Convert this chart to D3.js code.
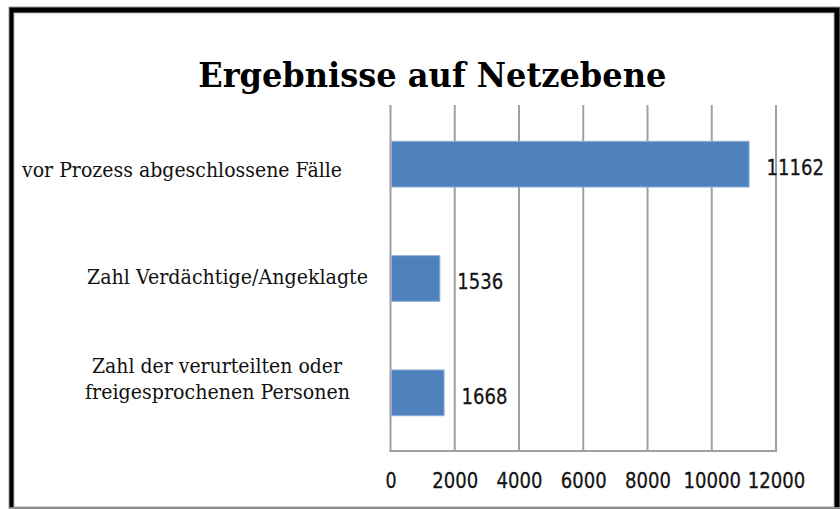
<!DOCTYPE html>
<html>
<head>
<meta charset="utf-8">
<script src="https://cdn.jsdelivr.net/npm/d3@7"></script>
<style>
  html, body { margin: 0; padding: 0; background: #ffffff; }
  svg { display: block; }
</style>
</head>
<body>
<script>
// ---- data ----
const title = "Ergebnisse auf Netzebene";
const categories = [
  ["vor Prozess abgeschlossene Fälle"],
  ["Zahl Verdächtige/Angeklagte"],
  ["Zahl der verurteilten oder", "freigesprochenen Personen"]
];
const values = [11162, 1536, 1668];
const tickValues = [0, 2000, 4000, 6000, 8000, 10000, 12000];
const xDomain = [0, 12000];

// ---- layout (not data) ----
const W = 840, H = 509;
const plot = { left: 390.5, right: 776, top: 105, bottom: 451 };
// per-category label placement: left x of each line, baseline offsets from band centre, line widths
const labelLayout = [
  { x: [22], dy: [12.8], w: [320] },
  { x: [87], dy: [5.3], w: [281] },
  { x: [92, 85], dy: [-19.7, 6.6], w: [250, 265] }
];

const svg = d3.select("body").append("svg").attr("width", W).attr("height", H);

// frame
svg.append("rect").attr("x", 9).attr("y", 7).attr("width", W - 9).attr("height", H - 7)
  .attr("fill", "#000").attr("stroke", "#9a9a9a").attr("stroke-width", 1);
svg.append("rect").attr("x", 14).attr("y", 13).attr("width", 820).attr("height", 494)
  .attr("fill", "#fff").attr("stroke", "#b0b0b0").attr("stroke-width", 1);
svg.append("line").attr("x1", 9).attr("x2", W).attr("y1", 508).attr("y2", 508)
  .attr("stroke", "#8a8a8a").attr("stroke-width", 2);

// scales
const x = d3.scaleLinear().domain(xDomain).range([plot.left, plot.right]);
const y = d3.scaleBand().domain(d3.range(values.length)).range([107, 450])
  .paddingInner(0.6).paddingOuter(0.3);

// gridlines
svg.append("g").selectAll("line").data(tickValues).join("line")
  .attr("x1", d => x(d)).attr("x2", d => x(d))
  .attr("y1", plot.top).attr("y2", plot.bottom)
  .attr("stroke", "#a0a0a0").attr("stroke-width", 2);
svg.append("line").attr("x1", plot.left - 1).attr("x2", plot.right + 1)
  .attr("y1", plot.bottom).attr("y2", plot.bottom)
  .attr("stroke", "#a0a0a0").attr("stroke-width", 2);

// bars
svg.append("g").selectAll("rect").data(values).join("rect")
  .attr("x", x(0) + 1)
  .attr("y", (d, i) => y(i))
  .attr("width", d => x(d) - x(0) - 1)
  .attr("height", y.bandwidth())
  .attr("fill", "#4f81bd")
  .attr("stroke", "#8fb0da").attr("stroke-width", 1);

// value labels
const digitW = 11.6;
svg.append("g").selectAll("text").data(values).join("text")
  .attr("x", d => x(d) + 17.5)
  .attr("y", (d, i) => y(i) + y.bandwidth() / 2 + 10.8)
  .attr("font-family", "DejaVu Sans, Verdana, sans-serif")
  .attr("font-size", 22)
  .attr("fill", "#141414")
  .attr("stroke", "#141414").attr("stroke-width", 0.3)
  .attr("textLength", d => String(d).length * digitW - 0.5)
  .attr("lengthAdjust", "spacingAndGlyphs")
  .text(d => d);

// x axis tick labels
const axis = d3.axisBottom(x).tickValues(tickValues).tickSize(0).tickPadding(0).tickFormat(d3.format("d"));
const gAxis = svg.append("g").attr("transform", `translate(0,${plot.bottom})`).call(axis);
gAxis.select(".domain").remove();
gAxis.selectAll("text")
  .attr("dy", null)
  .attr("y", 37.3)
  .attr("font-family", "DejaVu Sans, Verdana, sans-serif")
  .attr("font-size", 20.5)
  .attr("fill", "#141414")
  .attr("stroke", "#141414").attr("stroke-width", 0.3)
  .attr("text-anchor", "middle")
  .attr("textLength", d => String(d).length * digitW - 0.5)
  .attr("lengthAdjust", "spacingAndGlyphs");

// category labels
categories.forEach((lines, i) => {
  const cy = y(i) + y.bandwidth() / 2;
  lines.forEach((line, j) => {
    svg.append("text")
      .attr("x", labelLayout[i].x[j])
      .attr("y", cy + labelLayout[i].dy[j])
      .attr("font-family", "DejaVu Serif, serif")
      .attr("font-size", 20.5)
      .attr("fill", "#111")
      .attr("textLength", labelLayout[i].w[j])
      .attr("lengthAdjust", "spacingAndGlyphs")
      .text(line);
  });
});

// title
svg.append("text")
  .attr("x", 198.3).attr("y", 87.3)
  .attr("font-family", "DejaVu Serif, serif")
  .attr("font-weight", "bold")
  .attr("font-size", 34)
  .attr("fill", "#000")
  .attr("textLength", 468)
  .attr("lengthAdjust", "spacingAndGlyphs")
  .text(title);
</script>
</body>
</html>
